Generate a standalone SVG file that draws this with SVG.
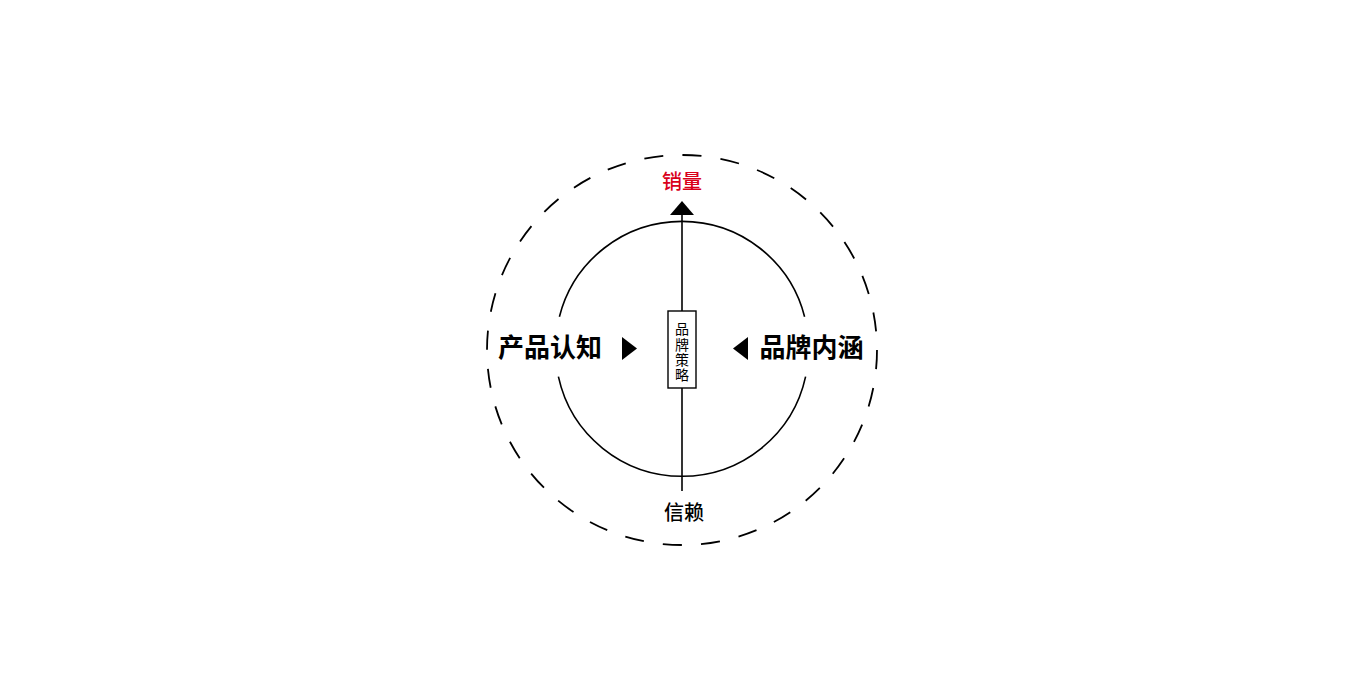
<svg xmlns="http://www.w3.org/2000/svg" width="1366" height="683" viewBox="0 0 1366 683">
<style>
  .cjk { font-family: "Noto Sans CJK SC", "Noto Sans", sans-serif; text-anchor: middle; }
  .big { font-size: 26px; font-weight: 700; fill: #000; }
  .mid { font-size: 20px; font-weight: 500; }
  .small { font-size: 14px; fill: #000; writing-mode: vertical-rl; letter-spacing: 1.2px; }
  .ln { fill: none; stroke: #000; stroke-width: 1.6; }
  .tri { fill: #000; stroke: none; }
</style>
<rect width="1366" height="683" fill="#fff"/>
<g id="outer-ring">
  <circle cx="682" cy="350" r="195" fill="none" stroke="#000" stroke-width="1.8" stroke-dasharray="19.1 19.19"/>
</g>
<g id="inner-ring">
  <path class="ln" d="M 559.4 316.7 A 126.5 126.5 0 0 1 804.6 316.7"/>
  <path class="ln" d="M 558.4 376.7 A 126.5 126.5 0 0 0 805.6 376.7"/>
</g>
<g id="connectors">
  <line class="ln" x1="682" y1="213" x2="682" y2="311"/>
  <line class="ln" x1="682" y1="388" x2="682" y2="491"/>
  <polygon class="tri" points="682,201 670,215 694,215"/>
  <polygon class="tri" points="622,337 637,348.5 622,360"/>
  <polygon class="tri" points="748,337 733,348.5 748,360"/>
</g>
<g id="node-sales">
  <text class="cjk mid" x="682" y="189" fill="#d9001b">销量</text>
</g>
<g id="node-strategy">
  <rect x="668" y="311" width="28" height="77" fill="#fff" stroke="#000" stroke-width="1.4"/>
  <text class="cjk small" x="682" y="352.5">品牌策略</text>
</g>
<g id="node-product">
  <text class="cjk big" x="550" y="356.5">产品认知</text>
</g>
<g id="node-brand">
  <text class="cjk big" x="811.5" y="357">品牌内涵</text>
</g>
<g id="node-trust">
  <text class="cjk mid" x="684" y="520" fill="#000">信赖</text>
</g>
</svg>
